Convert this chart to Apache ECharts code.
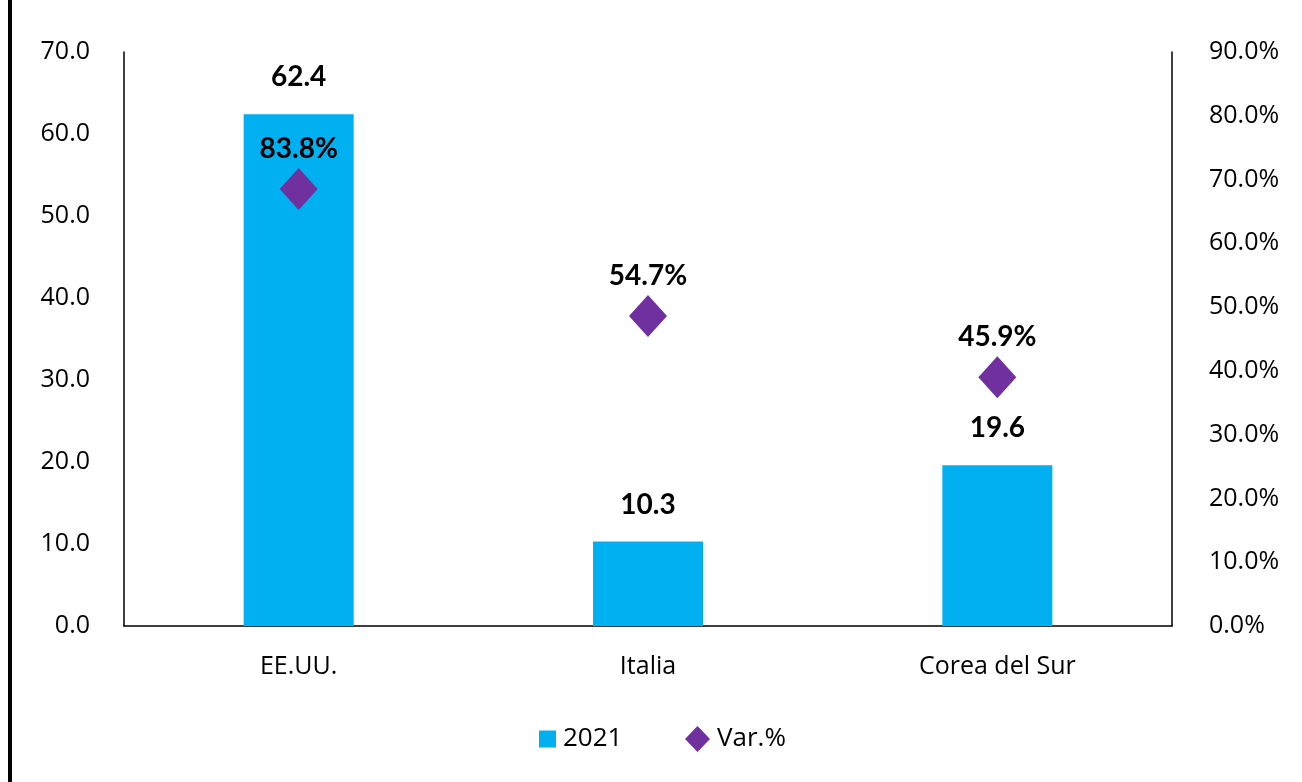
<!DOCTYPE html>
<html>
<head>
<meta charset="utf-8">
<script src="https://cdn.jsdelivr.net/npm/echarts@6/dist/echarts.min.js"></script>
<style>html,body{margin:0;padding:0;background:#fff}#c{width:1302px;height:782px}</style>
</head>
<body>
<div id="c"></div>
<script>
var categories = ['EE.UU.', 'Italia', 'Corea del Sur'];
var values2021 = [62.4, 10.3, 19.6];
var varPoints = [68.5, 48.6, 39.0];
var varLabels = ['83.8%', '54.7%', '45.9%'];
var leftTicks = { min: 0, max: 70, interval: 10 };
var rightTicks = { min: 0, max: 90, interval: 10 };

var font = '"Open Sans", Lato, sans-serif';
var boldFont = 'Lato, "Open Sans", sans-serif';
var chart = echarts.init(document.getElementById('c'));
chart.setOption({
  animation: false,
  textStyle: { fontFamily: font },
  graphic: [{ type: 'rect', shape: { x: 8, y: 0, width: 4, height: 782 }, style: { fill: '#000' } }],
  grid: { left: 124, right: 130, top: 52, bottom: 156 },
  legend: [{
    top: 726, left: 539, itemWidth: 17, itemHeight: 17, itemGap: 10, padding: 0,
    textStyle: { fontSize: 26, color: '#000', fontFamily: font, padding: [0, 0, 0, 2] },
    data: [{ name: '2021', icon: 'rect' }]
  }, {
    top: 726, left: 685, itemWidth: 25, itemHeight: 26, padding: 0,
    textStyle: { fontSize: 26, color: '#000', fontFamily: font, padding: [0, 0, 0, 2] },
    data: [{ name: 'Var.%', icon: 'diamond', itemStyle: { color: '#7030A0', opacity: 1 } }]
  }],
  xAxis: {
    type: 'category', data: categories,
    axisLine: { lineStyle: { color: '#000', width: 1.5 } },
    axisTick: { show: false },
    axisLabel: { fontSize: 25, color: '#000', margin: 28, fontFamily: font }
  },
  yAxis: [{
    type: 'value', min: leftTicks.min, max: leftTicks.max, interval: leftTicks.interval,
    splitLine: { show: false },
    axisLine: { show: true, lineStyle: { color: '#000', width: 1.5 } },
    axisTick: { show: false },
    axisLabel: { fontSize: 25, color: '#000', margin: 34, fontFamily: font, formatter: function (v) { return v.toFixed(1); } }
  }, {
    type: 'value', min: rightTicks.min, max: rightTicks.max, interval: rightTicks.interval,
    splitLine: { show: false },
    axisLine: { show: true, lineStyle: { color: '#000', width: 1.5 } },
    axisTick: { show: false },
    axisLabel: { fontSize: 25, color: '#000', margin: 37, fontFamily: font, formatter: function (v) { return v.toFixed(1) + '%'; } }
  }],
  series: [{
    name: '2021', type: 'bar', data: values2021, barWidth: 110,
    itemStyle: { color: '#00B0F0' },
    label: { show: true, position: 'top', distance: 23, fontSize: 28, fontWeight: 'bold', color: '#000', fontFamily: boldFont,
      formatter: function (p) { return p.value.toFixed(1); } }
  }, {
    name: 'Var.%', type: 'scatter', yAxisIndex: 1, data: varPoints,
    symbol: 'diamond', symbolSize: [38, 42],
    itemStyle: { color: '#7030A0', opacity: 1 },
    label: { show: true, position: 'top', distance: 5, fontSize: 28, fontWeight: 'bold', color: '#000', opacity: 1, fontFamily: boldFont,
      formatter: function (p) { return varLabels[p.dataIndex]; } }
  }]
});
</script>
</body>
</html>
